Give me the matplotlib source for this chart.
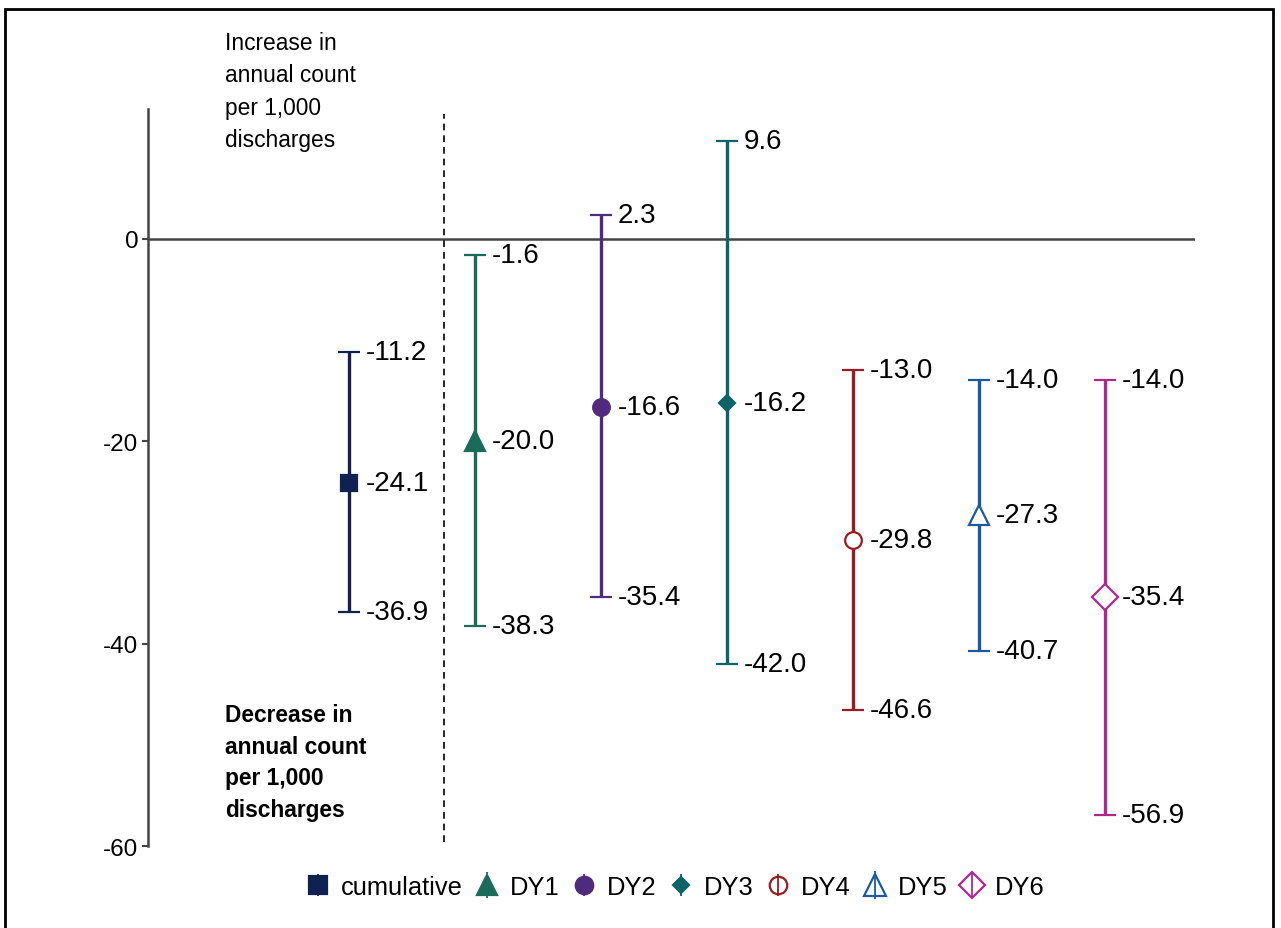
import numpy as np
import matplotlib.pyplot as plt
from matplotlib.patches import Rectangle
from matplotlib.lines import Line2D
from matplotlib.legend_handler import HandlerTuple

plt.rcParams['font.family'] = ['Liberation Sans', 'DejaVu Sans']

groups = ["cumulative", "DY1", "DY2", "DY3", "DY4", "DY5", "DY6"]
est = [-24.1, -20.0, -16.6, -16.2, -29.8, -27.3, -35.4]
lower = [-36.9, -38.3, -35.4, -42.0, -46.6, -40.7, -56.9]
upper = [-11.2, -1.6, 2.3, 9.6, -13.0, -14.0, -14.0]
colors = ["#0f2150", "#1a6b58", "#4f2a7d", "#0c6469", "#9b1c20", "#1b5aa0", "#b0268f"]
markers = ["s", "^", "o", "D", "o", "^", "D"]
filled = [True, True, True, True, False, False, False]
msizes = [12, 14, 12, 8, 12, 15, 13]


def main():
    fig = plt.figure(figsize=(12.81, 9.29), dpi=100)
    ax = fig.add_axes([148 / 1281, 1 - 847 / 929, (1195 - 148) / 1281, (847 - 110) / 929])

    x = np.arange(1, len(groups) + 1)
    handles = []
    for i, g in enumerate(groups):
        yerr = [[est[i] - lower[i]], [upper[i] - est[i]]]
        face = colors[i] if filled[i] else "white"
        ax.errorbar(x[i], est[i], yerr=yerr, fmt=markers[i], color=colors[i],
                    ecolor=colors[i], elinewidth=2.4, capsize=8, capthick=2.4,
                    markersize=msizes[i], markeredgewidth=1.6,
                    markerfacecolor=face, markeredgecolor=colors[i], zorder=3)
        for v in (lower[i], est[i], upper[i]):
            ax.text(x[i] + 0.13, v, f"{v:.1f}", fontsize=20, va="center", ha="left")
        mk = Line2D([], [], linestyle="none", marker=markers[i], markersize=msizes[i] * 1.05,
                    markerfacecolor=face, markeredgecolor=colors[i], markeredgewidth=1.6)
        vl = Line2D([], [], linestyle="none", marker="|", markersize=max(msizes[i], 12) * 1.3,
                    markeredgewidth=1.3, color=colors[i])
        handles.append((mk, vl))

    ax.axhline(0, color="#444444", linewidth=1.8, zorder=1)
    ax.axvline(1.754, color="black", linestyle=(0, (4, 3)), linewidth=1.2, ymin=0.005, ymax=0.993)

    ax.set_xlim(-0.595, 7.714)
    ax.set_ylim(-60, 12.8)
    ax.set_yticks([0, -20, -40, -60])
    ax.set_yticklabels(["0", "-20", "-40", "-60"])
    ax.set_xticks([])
    ax.tick_params(axis="y", labelsize=17.5, length=4, width=1.5, color="#444444", pad=3)
    for s in ["top", "right", "bottom"]:
        ax.spines[s].set_visible(False)
    ax.spines["left"].set_color("#444444")
    ax.spines["left"].set_linewidth(1.8)

    fig.text(225 / 1281, 1 - 32 / 929, "Increase in\nannual count\nper 1,000\ndischarges",
             fontsize=16.4, va="top", ha="left", linespacing=1.52)
    fig.text(225 / 1281, 1 - 704 / 929, "Decrease in\nannual count\nper 1,000\ndischarges",
             fontsize=16.4, va="top", ha="left", linespacing=1.48, fontweight="bold")

    fig.legend(handles, groups, loc="center", bbox_to_anchor=(676 / 1281, 1 - 888 / 929), ncol=7,
               frameon=False, fontsize=18.4, handlelength=0.8, handletextpad=0.5,
               columnspacing=0.55, handler_map={tuple: HandlerTuple(ndivide=1)})

    fig.patches.append(Rectangle((5 / 1281, -0.05), (1273 - 5) / 1281, 1.05 - 10 / 929,
                                 transform=fig.transFigure, fill=False,
                                 edgecolor="black", linewidth=2))

    fig.savefig("out.png", dpi=100)

main()
